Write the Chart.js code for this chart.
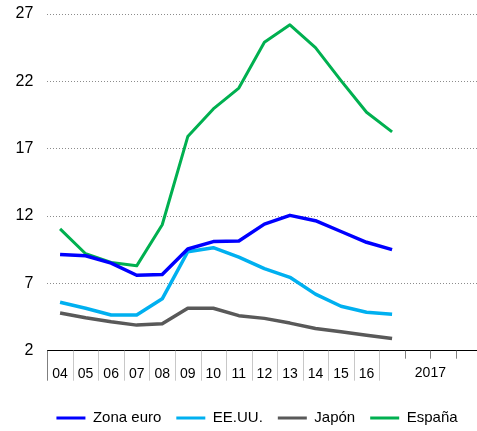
<!DOCTYPE html>
<html>
<head>
<meta charset="utf-8">
<script src="https://cdn.jsdelivr.net/npm/chart.js@4/dist/chart.umd.min.js"></script>
<style>
  html, body { margin: 0; padding: 0; background: #fff; overflow: hidden; }
  #wrap { width: 477px; height: 431px; overflow: hidden; position: relative; }
  canvas { position: absolute; left: 0; top: 0; }
</style>
</head>
<body>
<div id="wrap"><canvas id="c" width="484" height="431"></canvas></div>
<script>
// ---- data ----
const yearLabels = ['04','05','06','07','08','09','10','11','12','13','14','15','16'];
const quarterLabels = ['', '', '', ''];          // 2017 I..IV
const groupLabel = '2017';
const seriesNames = ['Zona euro', 'EE.UU.', 'Japón', 'España'];
const zonaEuro = [9.15, 9.05, 8.5, 7.6, 7.65, 9.55, 10.1, 10.15, 11.4, 12.05, 11.65, 10.85, 10.05, 9.5];
const eeuu     = [5.6, 5.15, 4.65, 4.65, 5.85, 9.35, 9.65, 8.95, 8.1, 7.45, 6.2, 5.3, 4.85, 4.7];
const japon    = [4.8, 4.45, 4.15, 3.9, 4.0, 5.15, 5.15, 4.6, 4.4, 4.05, 3.65, 3.4, 3.15, 2.9];
const espana   = [11.05, 9.2, 8.55, 8.3, 11.35, 17.9, 19.95, 21.5, 24.9, 26.2, 24.5, 22.05, 19.7, 18.25];
const yMin = 2, yMax = 27, yStep = 5;

// ---- style ----
const FONT = "'Liberation Sans', Arial, Helvetica, sans-serif";
const colors = ['#0000FF', '#00B0F0', '#595959', '#00B050'];
const widths = [3.5, 3.5, 3.5, 3];
const legendShift = 15;
const tickPad = 15.3;

const labels = yearLabels.concat(quarterLabels);
const values = [zonaEuro, eeuu, japon, espana];

const decor = {
  id: 'decor',
  afterLayout(chart) {
    const lg = chart.legend;
    if (lg) { lg.left += legendShift; lg.right += legendShift; }
  },
  afterDraw(chart) {
    const ctx = chart.ctx;
    const x = chart.scales.x;
    const yAxis = x.top;
    ctx.save();
    for (let i = 0; i <= yearLabels.length; i++) {
      const px = Math.round(x.getPixelForValue(i - 0.5)) + 0.5;
      ctx.beginPath();
      ctx.strokeStyle = i === 0 ? '#7f7f7f' : '#c8c8c8';
      ctx.lineWidth = 1;
      ctx.moveTo(px, yAxis);
      ctx.lineTo(px, yAxis + 30);
      ctx.stroke();
    }
    for (let j = 1; j < quarterLabels.length; j++) {
      const px = Math.round(x.getPixelForValue(yearLabels.length + j - 0.5)) + 0.5;
      ctx.beginPath();
      ctx.strokeStyle = '#808080';
      ctx.lineWidth = 1;
      ctx.moveTo(px, yAxis);
      ctx.lineTo(px, yAxis + 8);
      ctx.stroke();
    }
    const cx = x.getPixelForValue(yearLabels.length + (quarterLabels.length - 1) / 2);
    ctx.fillStyle = '#000';
    ctx.font = '14px ' + FONT;
    ctx.textAlign = 'center';
    ctx.textBaseline = 'top';
    ctx.fillText(groupLabel, cx, yAxis + tickPad);
    ctx.restore();
  }
};

new Chart(document.getElementById('c'), {
  type: 'line',
  data: {
    labels: labels,
    datasets: values.map((v, i) => ({
      label: seriesNames[i],
      data: v,
      borderColor: colors[i],
      backgroundColor: colors[i],
      borderWidth: widths[i],
      pointRadius: 0,
      pointHoverRadius: 0,
      tension: 0,
      fill: false,
      borderJoinStyle: 'round',
      borderCapStyle: 'butt'
    }))
  },
  options: {
    responsive: false,
    animation: false,
    devicePixelRatio: 1,
    layout: { padding: { top: 14, left: 0, right: 0, bottom: -4.5 } },
    plugins: {
      tooltip: { enabled: false },
      legend: {
        position: 'bottom',
        labels: {
          font: { family: FONT, size: 15 },
          color: '#000',
          boxWidth: 29,
          boxHeight: 3,
          padding: 15,
          generateLabels: (chart) => Chart.defaults.plugins.legend.labels.generateLabels(chart)
            .map(l => Object.assign(l, { lineWidth: 0 }))
        }
      }
    },
    scales: {
      x: {
        type: 'category',
        offset: true,
        grid: { display: true, drawOnChartArea: false, drawTicks: false },
        border: { display: true, color: '#000', width: 1 },
        ticks: {
          autoSkip: false, maxRotation: 0, minRotation: 0,
          padding: tickPad,
          color: '#000',
          font: { family: FONT, size: 14 }
        },
        afterFit: (s) => { s.height = 44.8; }
      },
      y: {
        min: yMin, max: yMax,
        grid: {
          drawTicks: true,
          tickLength: 14,
          tickColor: 'rgba(0,0,0,0)',
          color: (c) => (c.tick && c.tick.value === yMin) ? 'rgba(0,0,0,0)' : '#8c8c8c',
          lineWidth: 1
        },
        border: { display: false, dash: [1, 2] },
        ticks: {
          stepSize: yStep,
          padding: 0,
          color: '#000',
          font: { family: FONT, size: 16 }
        },
        afterFit: (s) => { s.width = 47.3; }
      }
    }
  },
  plugins: [decor]
});
</script>
</body>
</html>
